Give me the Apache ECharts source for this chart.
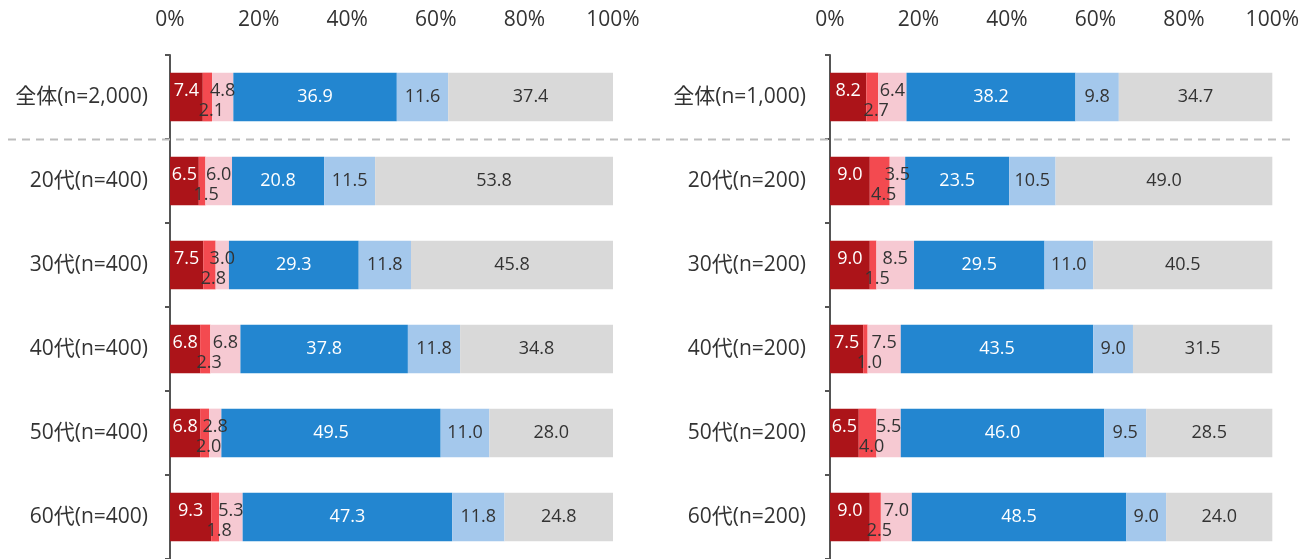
<!DOCTYPE html>
<html>
<head>
<meta charset="utf-8">
<script src="https://cdn.jsdelivr.net/npm/echarts@6/dist/echarts.min.js"></script>
<style>
  html, body { margin: 0; padding: 0; background: #fff; }
  #chart { width: 1302px; height: 559px; }
</style>
</head>
<body>
<div id="chart"></div>
<script>
// categories
const leftCats = ['全体(n=2,000)', '20代(n=400)', '30代(n=400)', '40代(n=400)', '50代(n=400)', '60代(n=400)'];
const rightCats = ['全体(n=1,000)', '20代(n=200)', '30代(n=200)', '40代(n=200)', '50代(n=200)', '60代(n=200)'];
const xTicks = [0, 20, 40, 60, 80, 100];

// left panel values (%), one array per segment
const leftSeg1 = [7.4, 6.5, 7.5, 6.8, 6.8, 9.3];
const leftSeg2 = [2.1, 1.5, 2.8, 2.3, 2.0, 1.8];
const leftSeg3 = [4.8, 6.0, 3.0, 6.8, 2.8, 5.3];
const leftSeg4 = [36.9, 20.8, 29.3, 37.8, 49.5, 47.3];
const leftSeg5 = [11.6, 11.5, 11.8, 11.8, 11.0, 11.8];
const leftSeg6 = [37.4, 53.8, 45.8, 34.8, 28.0, 24.8];

// right panel values (%)
const rightSeg1 = [8.2, 9.0, 9.0, 7.5, 6.5, 9.0];
const rightSeg2 = [2.7, 4.5, 1.5, 1.0, 4.0, 2.5];
const rightSeg3 = [6.4, 3.5, 8.5, 7.5, 5.5, 7.0];
const rightSeg4 = [38.2, 23.5, 29.5, 43.5, 46.0, 48.5];
const rightSeg5 = [9.8, 10.5, 11.0, 9.0, 9.5, 9.0];
const rightSeg6 = [34.7, 49.0, 40.5, 31.5, 28.5, 24.0];

const colors = ['#ac1419', '#f34a50', '#f6c9d2', '#2386d0', '#a4c8ec', '#d9d9d9'];
const labelColors = ['#fff', '#333', '#333', '#fff', '#333', '#333'];
const labelOffsets = [[0, -6], [4, 14], [0, -6], [0, 0], [0, 0], [0, 0]];

const font = '"Open Sans", "Noto Sans CJK JP", sans-serif';
const gridTop = 55, gridHeight = 507;

function makeSeries(arrays, idx) {
  return arrays.map((arr, i) => ({
    type: 'bar',
    stack: 'p' + idx,
    xAxisIndex: idx,
    yAxisIndex: idx,
    barWidth: '58%',
    data: arr,
    itemStyle: { color: colors[i] },
    label: {
      show: true,
      position: 'inside',
      offset: labelOffsets[i],
      color: labelColors[i],
      fontSize: 18,
      fontFamily: font,
      formatter: p => p.value.toFixed(1)
    }
  }));
}

function xAxis(idx) {
  return {
    gridIndex: idx,
    type: 'value',
    position: 'top',
    min: xTicks[0], max: xTicks[xTicks.length - 1], interval: xTicks[1] - xTicks[0],
    axisLine: { show: false },
    axisTick: { show: false },
    splitLine: { show: false },
    axisLabel: { formatter: '{value}%', fontSize: 21, color: '#333', fontFamily: font, margin: 24 }
  };
}

function yAxis(idx, cats, margin) {
  return {
    gridIndex: idx,
    type: 'category',
    inverse: true,
    data: cats,
    axisLine: { lineStyle: { color: '#555', width: 2 } },
    axisTick: { show: true, length: 5, lineStyle: { color: '#555', width: 2 } },
    axisLabel: { fontSize: 21, color: '#333', fontFamily: font, margin: margin }
  };
}

const chart = echarts.init(document.getElementById('chart'));
chart.setOption({
  animation: false,
  grid: [
    { left: 170, width: 443, top: gridTop, height: gridHeight },
    { left: 830, width: 444, top: gridTop, height: gridHeight }
  ],
  xAxis: [xAxis(0), xAxis(1)],
  yAxis: [yAxis(0, leftCats, 22), yAxis(1, rightCats, 24)],
  series: makeSeries([leftSeg1, leftSeg2, leftSeg3, leftSeg4, leftSeg5, leftSeg6], 0)
    .concat(makeSeries([rightSeg1, rightSeg2, rightSeg3, rightSeg4, rightSeg5, rightSeg6], 1)),
  graphic: [{
    type: 'line',
    z: 100,
    shape: { x1: 8, y1: gridTop + gridHeight / 6, x2: 1292, y2: gridTop + gridHeight / 6 },
    style: { stroke: '#bdbdbd', lineWidth: 2, lineDash: [8, 6] }
  }]
});
</script>
</body>
</html>
